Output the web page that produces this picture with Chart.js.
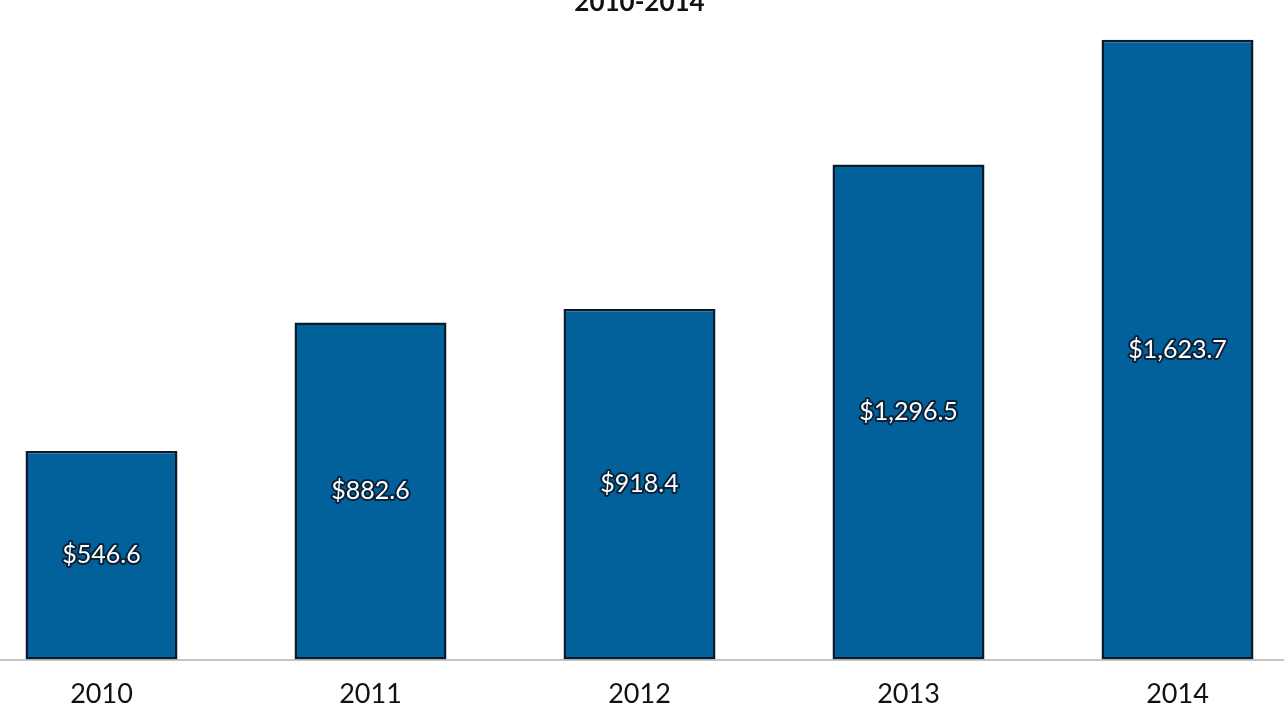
<!DOCTYPE html>
<html>
<head>
<meta charset="utf-8">
<script src="https://cdn.jsdelivr.net/npm/chart.js@4"></script>
<style>
    html, body { margin: 0; padding: 0; background: #fff; overflow: hidden; width: 1284px; height: 720px; }
    #wrap { position: absolute; left: -33px; top: -13px; width: 1345px; height: 756px; }
</style>
</head>
<body>
<div id="wrap"><canvas id="revenueChart"></canvas></div>
<script>
const years = ['2010', '2011', '2012', '2013', '2014'];
const revenue = [546.6, 882.6, 918.4, 1296.5, 1623.7];
const valueLabels = ['$546.6', '$882.6', '$918.4', '$1,296.5', '$1,623.7'];

// writes each value in the middle of its bar
const barLabels = {
    id: 'barLabels',
    afterDatasetsDraw(chart) {
        const ctx = chart.ctx;
        const meta = chart.getDatasetMeta(0);
        ctx.save();
        ctx.font = '25px Lato, "Open Sans", sans-serif';
        ctx.textAlign = 'center';
        ctx.textBaseline = 'middle';
        ctx.lineJoin = 'round';
        meta.data.forEach((bar, i) => {
            const y = (bar.y + bar.base) / 2;
            ctx.lineWidth = 4;
            ctx.strokeStyle = '#08223a';
            ctx.strokeText(valueLabels[i], bar.x, y);
            ctx.fillStyle = '#ffffff';
            ctx.fillText(valueLabels[i], bar.x, y);
        });
        ctx.restore();
    }
};

const ctx = document.getElementById('revenueChart').getContext('2d');
new Chart(ctx, {
    type: 'bar',
    data: {
        labels: years,
        datasets: [{
            data: revenue,
            backgroundColor: '#02609a',
            borderColor: '#0a1b2c',
            borderWidth: 2.5,
            borderSkipped: false,
            categoryPercentage: 1,
            barPercentage: 0.565
        }]
    },
    options: {
        responsive: true,
        maintainAspectRatio: false,
        animation: false,
        layout: { padding: { left: 0, right: 0, top: 0, bottom: 23 } },
        plugins: {
            legend: { display: false },
            tooltip: { enabled: false },
            title: {
                display: true,
                text: '2010-2014',
                color: '#111',
                font: { family: 'Lato, "Open Sans", sans-serif', size: 26, weight: 'bold', lineHeight: 1.2 },
                padding: { top: 0, bottom: 3 }
            }
        },
        scales: {
            x: {
                grid: { display: false },
                border: { display: true, color: '#c4c4c4', width: 2 },
                ticks: {
                    color: '#111',
                    padding: 10,
                    font: { family: 'Lato, "Open Sans", sans-serif', size: 27 }
                }
            },
            y: {
                display: false,
                min: 0,
                max: 1672
            }
        }
    },
    plugins: [barLabels]
});
</script>
</body>
</html>
